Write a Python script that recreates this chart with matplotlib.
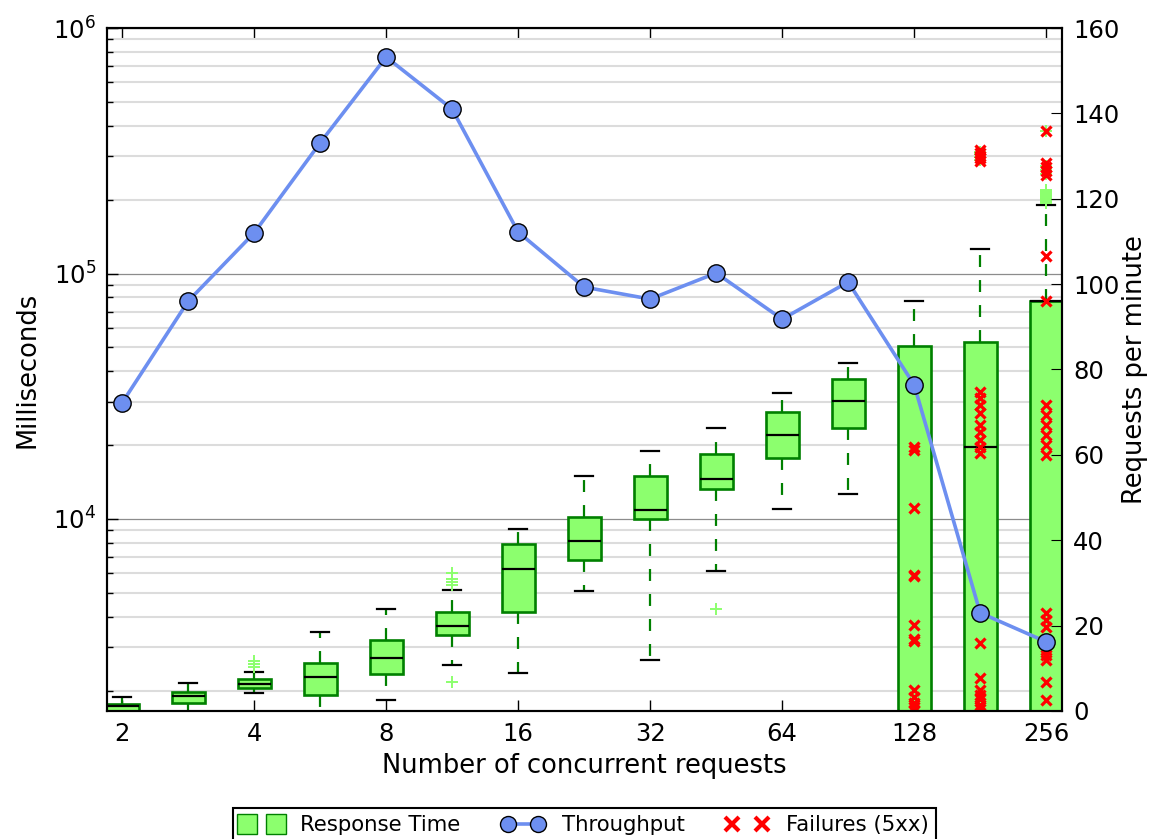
import numpy as np
import matplotlib
matplotlib.use('Agg')
import matplotlib.pyplot as plt
from matplotlib.lines import Line2D

# positions 0..14 are concurrency 2, 2.8, 4, ... 256 (half powers of two)
tick_pos = [0, 2, 4, 6, 8, 10, 12, 14]
tick_labels = ['2', '4', '8', '16', '32', '64', '128', '256']

# response time box stats (ms)
whis_hi = [1879, 2150, 2375, 3467, 4314, 5126, 9125, 15010, 18870, 23400, 32510, 43180, 77270, 126100, 190100]
q3 = [1763, 1982, 2225, 2600, 3215, 4180, 7880, 10190, 14960, 18400, 27360, 37150, 50480, 52650, 77270]
med = [1738, 1895, 2134, 2272, 2722, 3656, 6234, 8128, 10890, 14560, 21990, 30330, 1500, 19570, 77270]
q1 = [1600, 1786, 2043, 1924, 2338, 3380, 4170, 6805, 9970, 13290, 17780, 23410, 1400, 1400, 1400]
whis_lo = [1550, 1600, 1950, 1640, 1833, 2536, 2366, 5095, 2655, 6155, 10970, 12680, 1300, 1300, 1300]
fliers = [[], [], [2500, 2570, 2640], [], [], [2174, 5385, 5555, 5715, 6010], [], [], [], [4316],
          [], [], [], [290000, 298000, 306000, 314000],
          [193000, 194500, 196000, 197500, 199000, 200500, 202000, 203500, 205000, 206500,
           208000, 209500, 211000, 212500, 214000, 215500, 217000, 218500,
           255000, 265000, 275000, 380000]]

# failed requests (5xx) response times
fail_pos = [12, 13, 14]
failures = [
    [19100, 19600, 11070, 5915, 5850, 3700, 3185, 3250, 2010, 1888, 1778, 1713, 1667],
    [318000, 310000, 302000, 295000, 288000, 32900, 31100, 29100, 27000, 24150, 22600,
     21000, 19650, 18570, 3120, 2245, 2010, 1925, 1840, 1750, 1690],
    [380500, 282000, 271700, 261600, 251900, 118400, 77270, 29150, 26550, 24200, 22000,
     20000, 18240, 4140, 3880, 3630, 2925, 2790, 2667, 2168, 1832],
]

# throughput, requests per minute
throughput = [72.2, 96.0, 112.0, 133.1, 153.2, 141.0, 112.2, 99.3, 96.5, 102.6, 91.8, 100.5, 76.4, 23.0, 16.2]

box_fill = '#8cff6e'
box_edge = 'green'
thr_color = '#6d8ff0'

plt.rcParams['lines.scale_dashes'] = False

fig = plt.figure(figsize=(11.59, 8.39), dpi=100)
ax = fig.add_axes([0.0923, 0.1526, 0.824, 0.814])

stats = []
for i in range(len(med)):
    stats.append({'med': med[i], 'q1': q1[i], 'q3': q3[i],
                  'whislo': whis_lo[i], 'whishi': whis_hi[i], 'fliers': fliers[i]})
positions = list(range(len(med)))
ax.bxp(stats, positions=positions, widths=0.5, patch_artist=True, showfliers=True,
       boxprops=dict(facecolor=box_fill, edgecolor=box_edge, linewidth=1.9),
       medianprops=dict(color='black', linewidth=1.6),
       whiskerprops=dict(color=box_edge, linewidth=1.6, linestyle=(0, (8.6, 9.4))),
       capprops=dict(color='black', linewidth=1.6),
       flierprops=dict(marker='+', markeredgecolor=box_fill, markersize=9, markeredgewidth=1.4,
                       linestyle='none'),
       capwidths=0.28)

for p, vals in zip(fail_pos, failures):
    ax.plot([p] * len(vals), vals, ls='none', marker='x', ms=7.5, mew=2.3, color='red', zorder=4)

ax.set_yscale('log')
ax.set_ylim(1652, 1e6)
ax.set_xlim(-0.23, 14.24)
ax.set_xticks(tick_pos)
ax.set_xticklabels(tick_labels)
ax.yaxis.grid(True, which='major', color='#8c8c8c', lw=0.9)
ax.yaxis.grid(True, which='minor', color='#dcdcdc', lw=1.5)
ax.set_axisbelow(True)
ax.tick_params(which='both', direction='in', top=True, right=False, labelsize=17.5, pad=8)
ax.tick_params(which='major', length=8, width=1)
ax.tick_params(which='minor', length=4, width=1)
for s in ax.spines.values():
    s.set_linewidth(1.5)
ax.set_xlabel('Number of concurrent requests', fontsize=18.5, labelpad=5)
ax.set_ylabel('Milliseconds', fontsize=18.5, labelpad=9)

ax2 = ax.twinx()
ax2.plot(positions, throughput, color=thr_color, lw=2.6, marker='o', ms=12.5,
         mfc=thr_color, mec='black', mew=1)
ax2.set_ylim(0, 160)
ax2.set_yticks(np.arange(0, 161, 20))
ax2.tick_params(direction='in', length=8, labelsize=17.5, pad=8)
ax2.set_ylabel('Requests per minute', fontsize=18.5, labelpad=2)
for s in ax2.spines.values():
    s.set_linewidth(1.5)

h_box = Line2D([], [], ls='none', marker='s', ms=15, mfc=box_fill, mec=box_edge, mew=1)
h_thr = Line2D([], [], color=thr_color, lw=2.6, marker='o', ms=11.5, mfc=thr_color, mec='black', mew=1)
h_fail = Line2D([], [], ls='none', marker='x', ms=9.5, mec='red', mew=3)
leg = ax.legend([h_box, h_thr, h_fail], ['Response Time', 'Throughput', 'Failures (5xx)'],
                loc='upper center', bbox_to_anchor=(0.5, -0.126), ncol=3, numpoints=2,
                fontsize=15.3, fancybox=False, framealpha=1, edgecolor='black',
                handlelength=2.0, handletextpad=0.83, columnspacing=1.93, borderpad=0.35)
leg.get_frame().set_linewidth(1.5)

fig.savefig('out.png', dpi=100)
